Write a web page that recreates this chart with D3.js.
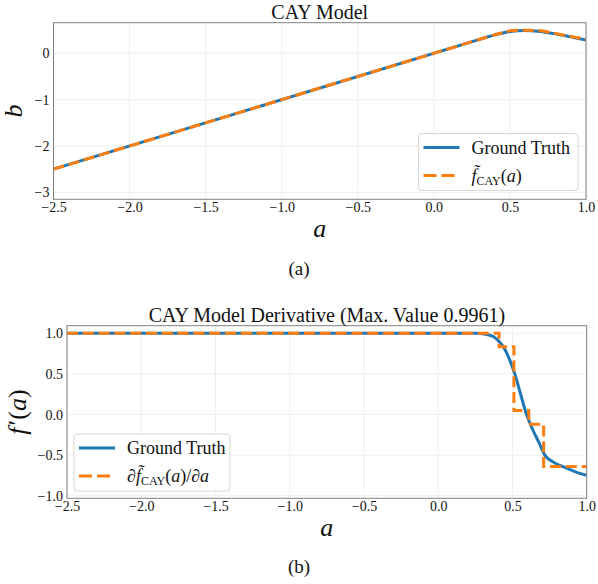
<!DOCTYPE html>
<html lang="en">
  <head>
    <meta charset="UTF-8" />
    <title>CAY Model</title>
    <script src="https://d3js.org/d3.v7.min.js"></script>
    <style>
      body {
        margin: 0;
        background: #fff;
      }
      .title,
      .legend text,
      .caption {
        font-family: "Liberation Serif", serif;
        fill: #111;
      }
      .axlabel {
        font-family: "Liberation Serif", serif;
        font-style: italic;
        fill: #111;
      }
    </style>
  </head>
  <body>
    <div id="chart"></div>
    <script>
      // shared x ticks
      var aTicks = [-2.5, -2.0, -1.5, -1.0, -0.5, 0.0, 0.5, 1.0];

      // (a) CAY model
      var modelTicksY = [-3, -2, -1, 0];
      var truthA = [-2.5, 0.3, 0.39, 0.46, 0.505, 0.55, 0.595, 0.64, 0.685, 0.73, 0.8, 0.865, 0.93, 1.0];
      var truthB = [-2.5, 0.3, 0.387, 0.445, 0.472, 0.488, 0.493, 0.488, 0.475, 0.456, 0.419, 0.379, 0.333, 0.288];
      var cayA = [-2.5, 0.41, 0.51, 0.61, 0.71, 1.0];
      var cayB = [-2.5, 0.41, 0.494, 0.499, 0.487, 0.301];

      // (b) derivative
      var derivTicksY = [-1.0, -0.5, 0.0, 0.5, 1.0];
      var dTruthA = [-2.5, 0.25, 0.32, 0.37, 0.41, 0.44, 0.48, 0.516, 0.555, 0.595, 0.64, 0.68, 0.718, 0.77, 0.865, 0.93, 1.0];
      var dTruthB = [1.0, 1.0, 0.99, 0.96, 0.9, 0.83, 0.68, 0.5, 0.25, 0.0, -0.2, -0.35, -0.5, -0.58, -0.66, -0.71, -0.75];
      var stepEdges = [-2.5, 0.41, 0.51, 0.61, 0.71, 1.0];
      var stepValues = [1.0, 0.835, 0.05, -0.12, -0.64, -0.64];

      var blue = "#1f77b4",
        orange = "#ff7f0e";

      var svg = d3
        .select("#chart")
        .append("svg")
        .attr("width", 598)
        .attr("height", 584);

      function panel(cfg) {
        var x = d3.scaleLinear().domain([-2.5, 1.0]).range([cfg.left, cfg.right]);
        var y = d3.scaleLinear().domain(cfg.yDomain).range([cfg.bottom, cfg.top]);
        var g = svg.append("g");

        // grid
        g.append("g")
          .selectAll("line.gx")
          .data(aTicks)
          .enter()
          .append("line")
          .attr("x1", (d) => x(d))
          .attr("x2", (d) => x(d))
          .attr("y1", cfg.top)
          .attr("y2", cfg.bottom)
          .attr("stroke", "#ebebeb")
          .attr("stroke-width", 0.8);
        g.append("g")
          .selectAll("line.gy")
          .data(cfg.yTicks)
          .enter()
          .append("line")
          .attr("x1", cfg.left)
          .attr("x2", cfg.right)
          .attr("y1", (d) => y(d))
          .attr("y2", (d) => y(d))
          .attr("stroke", "#ebebeb")
          .attr("stroke-width", 0.8);

        // axes
        var xa = g
          .append("g")
          .attr("transform", "translate(0," + cfg.bottom + ")")
          .call(d3.axisBottom(x).tickValues(aTicks).tickFormat(d3.format(".1f")).tickSize(0).tickPadding(3));
        var ya = g
          .append("g")
          .attr("transform", "translate(" + cfg.left + ",0)")
          .call(d3.axisLeft(y).tickValues(cfg.yTicks).tickFormat(d3.format(cfg.yFormat)).tickSize(0).tickPadding(4));
        [xa, ya].forEach((ax) => {
          ax.select(".domain").remove();
          ax.attr("font-family", "Liberation Serif").attr("font-size", 14);
          ax.selectAll("text").attr("fill", "#111");
        });

        // lines
        var clip = "clip" + cfg.id;
        svg
          .append("clipPath")
          .attr("id", clip)
          .append("rect")
          .attr("x", cfg.left)
          .attr("y", cfg.top)
          .attr("width", cfg.right - cfg.left)
          .attr("height", cfg.bottom - cfg.top);
        var lg = g.append("g").attr("clip-path", "url(#" + clip + ")");

        var line = d3
          .line()
          .x((d) => x(d[0]))
          .y((d) => y(d[1]))
          .curve(d3.curveMonotoneX);
        lg.append("path")
          .datum(d3.zip(cfg.truthX, cfg.truthY))
          .attr("d", line)
          .attr("fill", "none")
          .attr("stroke", blue)
          .attr("stroke-width", 3);
        var line2 = d3
          .line()
          .x((d) => x(d[0]))
          .y((d) => y(d[1]))
          .curve(cfg.approxCurve);
        lg.append("path")
          .datum(d3.zip(cfg.approxX, cfg.approxY))
          .attr("d", line2)
          .attr("fill", "none")
          .attr("stroke", orange)
          .attr("stroke-width", 3)
          .attr("stroke-dasharray", "11,4.8");

        // frame
        g.append("rect")
          .attr("x", cfg.left)
          .attr("y", cfg.top)
          .attr("width", cfg.right - cfg.left)
          .attr("height", cfg.bottom - cfg.top)
          .attr("fill", "none")
          .attr("stroke", "#808080")
          .attr("stroke-width", 1);

        // titles
        g.append("text")
          .attr("class", "title")
          .attr("x", (cfg.left + cfg.right) / 2)
          .attr("y", cfg.top - 4)
          .attr("text-anchor", "middle")
          .attr("font-size", 20)
          .text(cfg.title);
        g.append("text")
          .attr("class", "axlabel")
          .attr("x", (cfg.left + cfg.right) / 2)
          .attr("y", cfg.bottom + 38)
          .attr("text-anchor", "middle")
          .attr("font-size", 26)
          .text("a");
        var yl = g
          .append("text")
          .attr("class", "axlabel")
          .attr("transform", "translate(" + cfg.yLabelX + "," + (cfg.top + cfg.bottom) / 2 + ") rotate(-90)")
          .attr("text-anchor", "middle")
          .attr("font-size", 26);
        cfg.yLabel(yl);
        g.append("text")
          .attr("class", "caption")
          .attr("x", 299)
          .attr("y", cfg.captionY)
          .attr("text-anchor", "middle")
          .attr("font-size", 19)
          .text(cfg.caption);

        // legend
        var leg = g.append("g").attr("class", "legend").attr("transform", "translate(" + cfg.legX + "," + cfg.legY + ")");
        leg.append("rect")
          .attr("width", cfg.legW)
          .attr("height", 57)
          .attr("rx", 3)
          .attr("fill", "#fff")
          .attr("fill-opacity", 0.85)
          .attr("stroke", "#d9d9d9");
        leg.append("line")
          .attr("x1", 5)
          .attr("x2", 41)
          .attr("y1", 14)
          .attr("y2", 14)
          .attr("stroke", blue)
          .attr("stroke-width", 3);
        leg.append("line")
          .attr("x1", 5)
          .attr("x2", 41)
          .attr("y1", 42)
          .attr("y2", 42)
          .attr("stroke", orange)
          .attr("stroke-width", 3)
          .attr("stroke-dasharray", "13,5");
        leg.append("text").attr("x", 53).attr("y", 20).attr("font-size", 18).text("Ground Truth");
        cfg.legLabel(leg.append("text").attr("x", 53).attr("y", 48).attr("font-size", 18));
      }

      function fTilde(t) {
        t.append("tspan").attr("font-style", "italic").text("f\u0303");
        t.append("tspan").attr("font-size", 12).attr("dy", 3).text("CAY");
        t.append("tspan").attr("dy", -3).text("(");
        t.append("tspan").attr("font-style", "italic").text("a");
        t.append("tspan").text(")");
      }

      panel({
        id: "a",
        left: 53.5,
        right: 586,
        top: 22.7,
        bottom: 199.3,
        yDomain: [-3.15, 0.66],
        yTicks: modelTicksY,
        yFormat: "d",
        truthX: truthA,
        truthY: truthB,
        approxX: cayA,
        approxY: cayB,
        approxCurve: d3.curveLinear,
        title: "CAY Model",
        caption: "(a)",
        captionY: 275,
        yLabelX: 22,
        yLabel: (t) => t.text("b"),
        legX: 418.5,
        legY: 133.5,
        legW: 159.5,
        legLabel: fTilde,
      });

      panel({
        id: "b",
        left: 67,
        right: 586.7,
        top: 325.7,
        bottom: 498.3,
        yDomain: [-1.032, 1.094],
        yTicks: derivTicksY,
        yFormat: ".1f",
        truthX: dTruthA,
        truthY: dTruthB,
        approxX: stepEdges,
        approxY: stepValues,
        approxCurve: d3.curveStepAfter,
        title: "CAY Model Derivative (Max. Value 0.9961)",
        caption: "(b)",
        captionY: 573,
        yLabelX: 26,
        yLabel: (t) => {
          t.append("tspan").text("f");
          t.append("tspan").attr("font-style", "normal").attr("dx", 2).text("\u2032(");
          t.append("tspan").text("a");
          t.append("tspan").attr("font-style", "normal").text(")");
        },
        legX: 74,
        legY: 434,
        legW: 156,
        legLabel: (t) => {
          t.append("tspan").attr("font-style", "italic").text("\u2202");
          fTilde(t);
          t.append("tspan").text("/");
          t.append("tspan").attr("font-style", "italic").text("\u2202a");
        },
      });
    </script>
  </body>
</html>
